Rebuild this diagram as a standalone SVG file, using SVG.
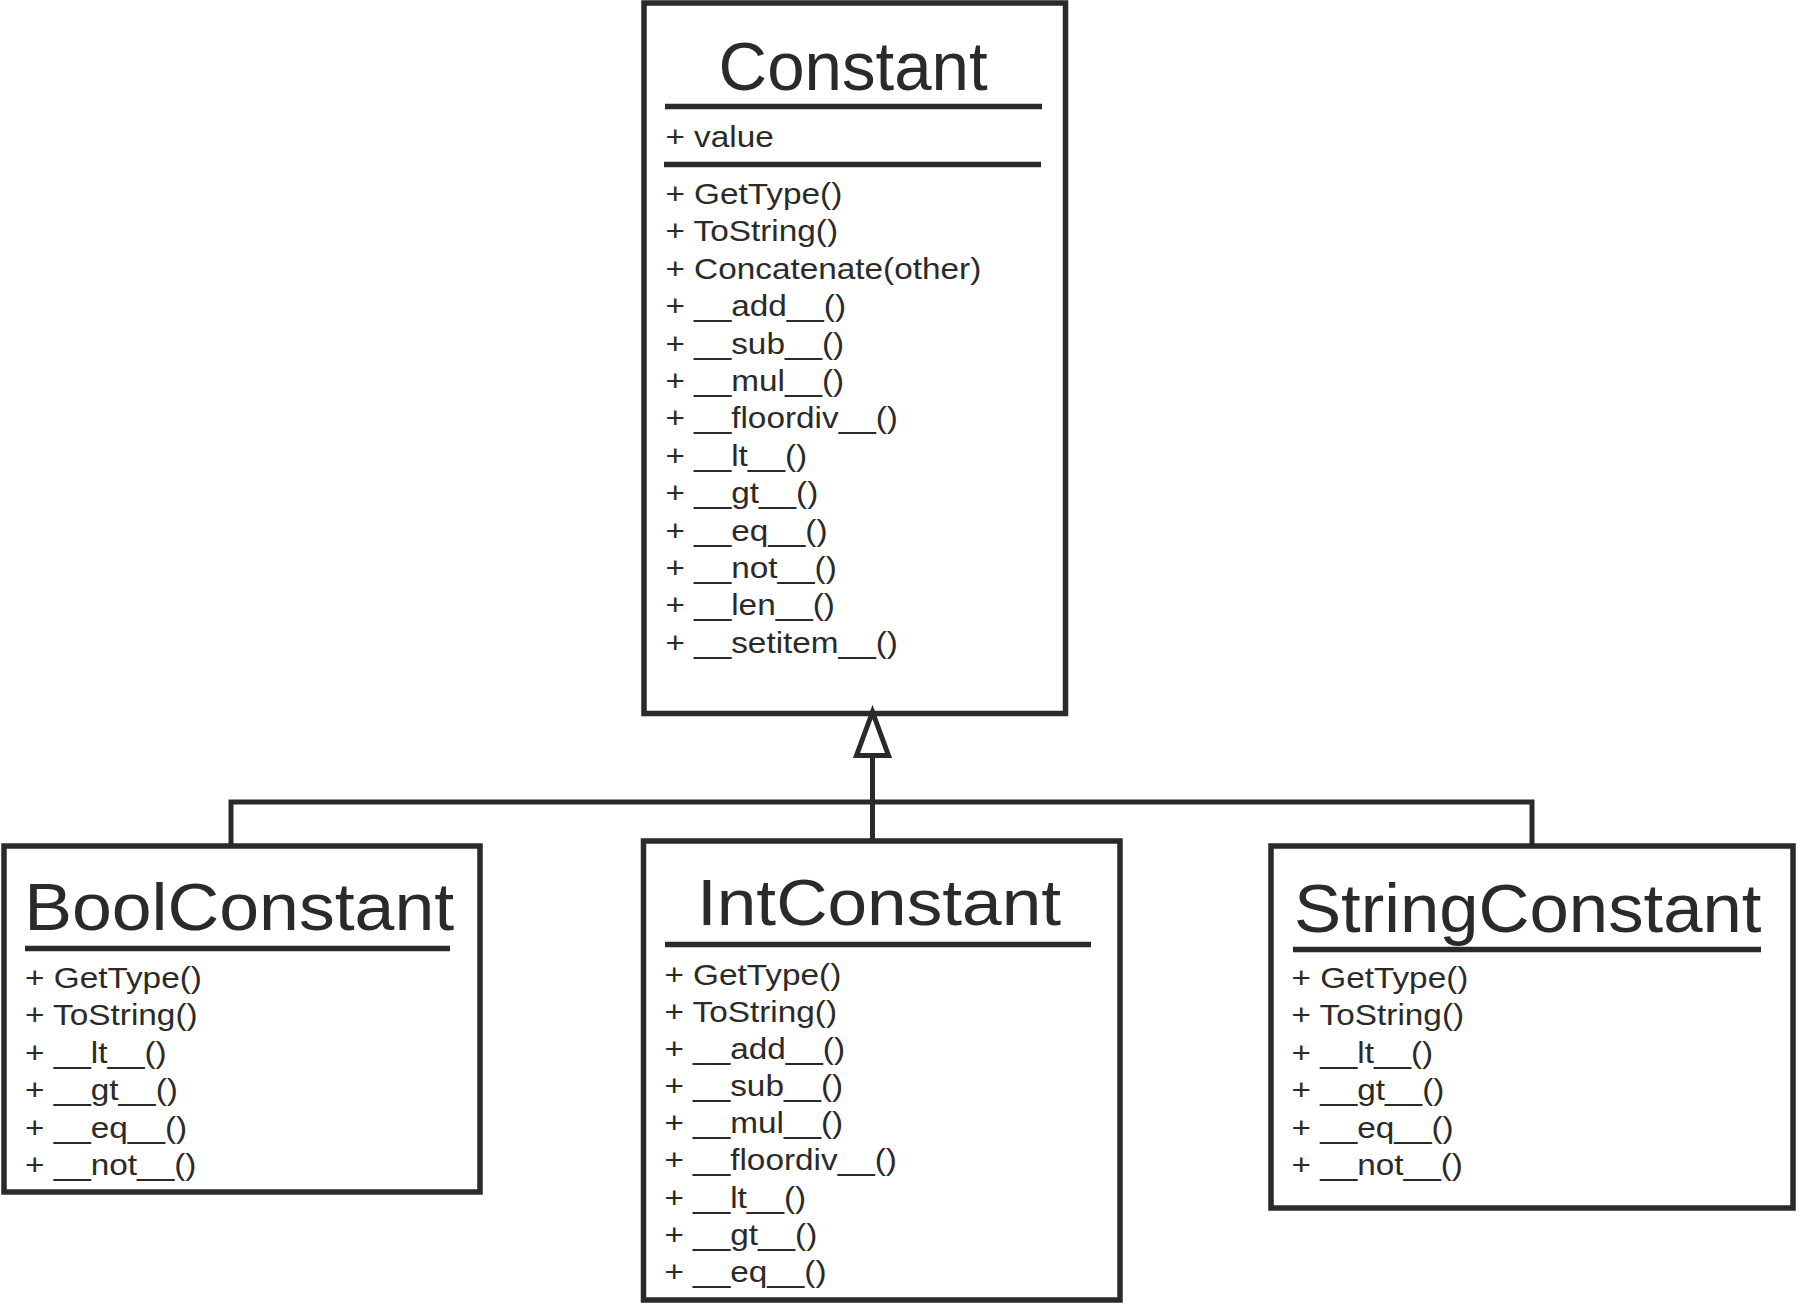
<svg xmlns="http://www.w3.org/2000/svg" width="1808" height="1304" viewBox="0 0 1808 1304">
<style>
.box{fill:#fff;stroke:#2b2a29;stroke-width:5.5}
.sep{stroke:#2b2a29;stroke-width:5.5}
.title{font-family:"Liberation Sans",Arial,sans-serif;fill:#2b2a29}
.mem{font-family:"Liberation Sans",Arial,sans-serif;font-size:29.5px;fill:#2b2a29}
.conn{fill:none;stroke:#2b2a29;stroke-width:5}
</style>
<rect width="1808" height="1304" fill="#fff"/>
<g id="Constant">
<rect class="box" x="644" y="3" width="421.5" height="710.5"/>
<text class="title" x="718.6" y="90" font-size="68" textLength="269" lengthAdjust="spacingAndGlyphs">Constant</text>
<line class="sep" x1="665" y1="106.5" x2="1042" y2="106.5"/>
<g transform="translate(665.4 0) scale(1.13 1)">
<text class="mem" x="0" y="147">+ value</text>
</g>
<line class="sep" x1="664" y1="164.5" x2="1041" y2="164.5"/>
<g transform="translate(665.4 0) scale(1.13 1)">
<text class="mem" x="0" y="204">+ GetType()</text>
<text class="mem" x="0" y="241.4">+ ToString()</text>
<text class="mem" x="0" y="278.8">+ Concatenate(other)</text>
<text class="mem" x="0" y="316.2">+ __add__()</text>
<text class="mem" x="0" y="353.6">+ __sub__()</text>
<text class="mem" x="0" y="391">+ __mul__()</text>
<text class="mem" x="0" y="428.4">+ __floordiv__()</text>
<text class="mem" x="0" y="465.8">+ __lt__()</text>
<text class="mem" x="0" y="503.2">+ __gt__()</text>
<text class="mem" x="0" y="540.6">+ __eq__()</text>
<text class="mem" x="0" y="578">+ __not__()</text>
<text class="mem" x="0" y="615.4">+ __len__()</text>
<text class="mem" x="0" y="652.8">+ __setitem__()</text>
</g>
</g>
<g id="BoolConstant">
<rect class="box" x="4" y="846" width="476" height="346"/>
<text class="title" x="24.2" y="930" font-size="66" textLength="430" lengthAdjust="spacingAndGlyphs">BoolConstant</text>
<line class="sep" x1="25" y1="948.5" x2="450" y2="948.5"/>
<g transform="translate(25 0) scale(1.13 1)">
<text class="mem" x="0" y="988">+ GetType()</text>
<text class="mem" x="0" y="1025.4">+ ToString()</text>
<text class="mem" x="0" y="1062.8">+ __lt__()</text>
<text class="mem" x="0" y="1100.2">+ __gt__()</text>
<text class="mem" x="0" y="1137.6">+ __eq__()</text>
<text class="mem" x="0" y="1175">+ __not__()</text>
</g>
</g>
<g id="IntConstant">
<rect class="box" x="643.5" y="841" width="476.5" height="459"/>
<text class="title" x="697" y="925" font-size="64" textLength="364" lengthAdjust="spacingAndGlyphs">IntConstant</text>
<line class="sep" x1="665" y1="944.5" x2="1091" y2="944.5"/>
<g transform="translate(664.4 0) scale(1.13 1)">
<text class="mem" x="0" y="985">+ GetType()</text>
<text class="mem" x="0" y="1022.1">+ ToString()</text>
<text class="mem" x="0" y="1059.2">+ __add__()</text>
<text class="mem" x="0" y="1096.3">+ __sub__()</text>
<text class="mem" x="0" y="1133.4">+ __mul__()</text>
<text class="mem" x="0" y="1170.5">+ __floordiv__()</text>
<text class="mem" x="0" y="1207.6">+ __lt__()</text>
<text class="mem" x="0" y="1244.7">+ __gt__()</text>
<text class="mem" x="0" y="1281.8">+ __eq__()</text>
</g>
</g>
<g id="StringConstant">
<rect class="box" x="1271" y="846" width="522" height="362"/>
<text class="title" x="1293.9" y="932" font-size="68" textLength="467.5" lengthAdjust="spacingAndGlyphs">StringConstant</text>
<line class="sep" x1="1293" y1="949.5" x2="1761" y2="949.5"/>
<g transform="translate(1291.5 0) scale(1.13 1)">
<text class="mem" x="0" y="988">+ GetType()</text>
<text class="mem" x="0" y="1025.4">+ ToString()</text>
<text class="mem" x="0" y="1062.8">+ __lt__()</text>
<text class="mem" x="0" y="1100.2">+ __gt__()</text>
<text class="mem" x="0" y="1137.6">+ __eq__()</text>
<text class="mem" x="0" y="1175">+ __not__()</text>
</g>
</g>
<g id="connectors">
<polyline class="conn" points="231,846 231,802 1532,802 1532,846"/>
<line class="conn" x1="872.5" y1="755" x2="872.5" y2="841"/>
<polygon class="conn" points="872.5,712 856.5,755.5 888.5,755.5" stroke-linejoin="miter" stroke-miterlimit="10"/>
</g>
</svg>
